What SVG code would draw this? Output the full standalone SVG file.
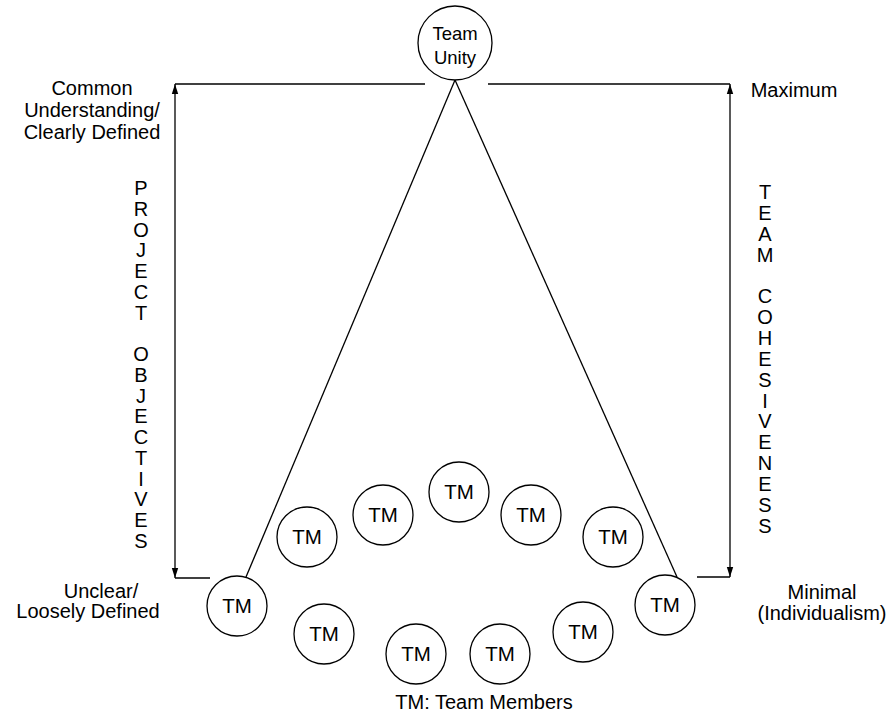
<svg xmlns="http://www.w3.org/2000/svg" width="896" height="712" viewBox="0 0 896 712">
<style>
text{font-family:"Liberation Sans",Arial,sans-serif;fill:#000}
.lbl{font-size:20px;text-anchor:middle}
.vt{font-size:20px;text-anchor:middle}
.tm{font-size:20.5px;text-anchor:middle}
.tu{font-size:18.5px;text-anchor:middle}
circle{fill:#fff;stroke:#000;stroke-width:1.3}
.ln{stroke:#000;stroke-width:1.3;fill:none}
</style>
<defs>
<marker id="ah" viewBox="0 0 10 10" refX="10" refY="5" markerWidth="10" markerHeight="10" markerUnits="userSpaceOnUse" orient="auto-start-reverse">
<path d="M0,1.8 L10,5 L0,8.2 Z" fill="#000"/>
</marker>
</defs>
<g id="connectors">
<path class="ln" d="M175,84 H425"/>
<path class="ln" d="M488,84 H730"/>
<path class="ln" d="M175,84 V578" marker-start="url(#ah)" marker-end="url(#ah)"/>
<path class="ln" d="M175,578 H210"/>
<path class="ln" d="M730,84 V577" marker-start="url(#ah)" marker-end="url(#ah)"/>
<path class="ln" d="M697,577 H730"/>
<path class="ln" d="M455,80 L246,577"/>
<path class="ln" d="M455,80 L677,577"/>
</g>
<g id="team-unity">
<circle cx="455" cy="43" r="37"/>
<text class="tu" x="455" y="40">Team</text>
<text class="tu" x="455" y="64">Unity</text>
</g>
<g id="tm1"><circle cx="237" cy="606" r="30"/><text class="tm" x="237" y="613">TM</text></g>
<g id="tm2"><circle cx="307" cy="537" r="30"/><text class="tm" x="307" y="544">TM</text></g>
<g id="tm3"><circle cx="383" cy="515" r="30"/><text class="tm" x="383" y="522">TM</text></g>
<g id="tm4"><circle cx="459" cy="492" r="30"/><text class="tm" x="459" y="499">TM</text></g>
<g id="tm5"><circle cx="531" cy="515" r="30"/><text class="tm" x="531" y="522">TM</text></g>
<g id="tm6"><circle cx="613" cy="537" r="30"/><text class="tm" x="613" y="544">TM</text></g>
<g id="tm7"><circle cx="665" cy="605" r="30"/><text class="tm" x="665" y="612">TM</text></g>
<g id="tm8"><circle cx="324" cy="634" r="30"/><text class="tm" x="324" y="641">TM</text></g>
<g id="tm9"><circle cx="416" cy="654" r="30"/><text class="tm" x="416" y="661">TM</text></g>
<g id="tm10"><circle cx="500" cy="654" r="30"/><text class="tm" x="500" y="661">TM</text></g>
<g id="tm11"><circle cx="583" cy="632" r="30"/><text class="tm" x="583" y="639">TM</text></g>
<g id="labels">
<text class="lbl" x="92" y="95">Common</text>
<text class="lbl" x="92" y="117">Understanding/</text>
<text class="lbl" x="92" y="139">Clearly Defined</text>
<text class="lbl" x="101" y="598">Unclear/</text>
<text class="lbl" x="88" y="618">Loosely Defined</text>
<text class="lbl" x="794" y="97">Maximum</text>
<text class="lbl" x="822" y="599">Minimal</text>
<text class="lbl" x="822" y="620">(Individualism)</text>
<text class="lbl" x="484" y="709">TM: Team Members</text>
</g>
<g id="project-objectives">
<text class="vt" x="141" y="195">P</text>
<text class="vt" x="141" y="216">R</text>
<text class="vt" x="141" y="237">O</text>
<text class="vt" x="141" y="257">J</text>
<text class="vt" x="141" y="278">E</text>
<text class="vt" x="141" y="299">C</text>
<text class="vt" x="141" y="320">T</text>
<text class="vt" x="141" y="361">O</text>
<text class="vt" x="141" y="382">B</text>
<text class="vt" x="141" y="403">J</text>
<text class="vt" x="141" y="423">E</text>
<text class="vt" x="141" y="444">C</text>
<text class="vt" x="141" y="465">T</text>
<text class="vt" x="141" y="486">I</text>
<text class="vt" x="141" y="506">V</text>
<text class="vt" x="141" y="527">E</text>
<text class="vt" x="141" y="548">S</text>
</g>
<g id="team-cohesiveness">
<text class="vt" x="765" y="199">T</text>
<text class="vt" x="765" y="220">E</text>
<text class="vt" x="765" y="241">A</text>
<text class="vt" x="765" y="262">M</text>
<text class="vt" x="765" y="303">C</text>
<text class="vt" x="765" y="324">O</text>
<text class="vt" x="765" y="345">H</text>
<text class="vt" x="765" y="366">E</text>
<text class="vt" x="765" y="387">S</text>
<text class="vt" x="765" y="408">I</text>
<text class="vt" x="765" y="428">V</text>
<text class="vt" x="765" y="449">E</text>
<text class="vt" x="765" y="470">N</text>
<text class="vt" x="765" y="491">E</text>
<text class="vt" x="765" y="512">S</text>
<text class="vt" x="765" y="533">S</text>
</g>
</svg>
